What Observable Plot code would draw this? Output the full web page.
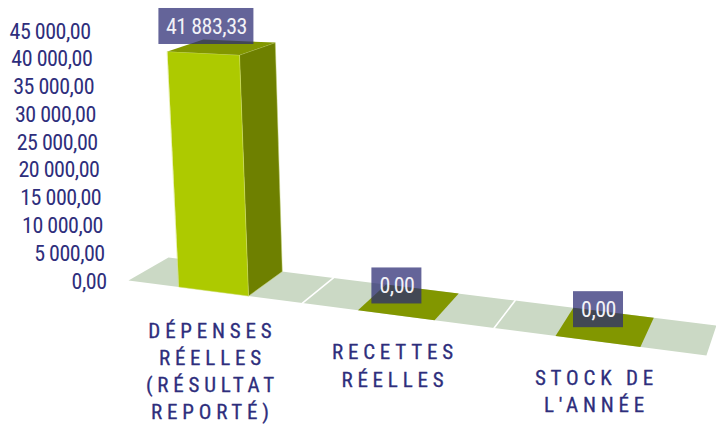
<!DOCTYPE html>
<html>
<head>
<meta charset="utf-8">
<script src="https://cdn.jsdelivr.net/npm/d3@7"></script>
<script src="https://cdn.jsdelivr.net/npm/@observablehq/plot@0.6"></script>
<style>
html,body{margin:0;padding:0;background:#fff}
svg{display:block}
</style>
</head>
<body>
<div id="chart"></div>
<script>
const categories = ["DÉPENSES\nRÉELLES\n(RÉSULTAT\nREPORTÉ)", "RECETTES\nRÉELLES", "STOCK DE\nL'ANNÉE"];
const values = [41883.33, 0, 0];
const valueLabels = ["41 883,33", "0,00", "0,00"];
const ticks = [0, 5000, 10000, 15000, 20000, 25000, 30000, 35000, 40000, 45000];
const tickLabels = ["0,00", "5 000,00", "10 000,00", "15 000,00", "20 000,00", "25 000,00", "30 000,00", "35 000,00", "40 000,00", "45 000,00"];

// Perspective camera: the floor runs along u (one unit per category) and d (0 front, 1 back)
const s = u => 0.287 * u / (1 - 0.0463 * u);
const lerp = (a, b, t) => a + (b - a) * t;
const floorX = (u, d) => lerp(lerp(128, 706, s(u)), lerp(168, 716, s(u)), d);
const floorY = (u, d) => lerp(lerp(280, 355, s(u)), lerp(257, 325, s(u)), d);
const vRef = 41883.33;
// pixel -> scale units, so every mark goes through Plot's x and y scales
const X = px => (px - 128) / 578 * 3;
const Y = py => (280 - py) * 45000 / 250;
function project(u, d, v) {
  const t = (u % 1 - 0.3) / 0.4, k = v / vRef;
  const lift = lerp(lerp(235.5, 241, t), lerp(224, 229, t), d);
  const lean = lerp(lerp(11.5, 9, t), lerp(13, 7, t), d);
  return {x: X(floorX(u, d) - lean * k), y: Y(floorY(u, d) - lift * k)};
}
const quad = (id, corners) => corners.map(([u, d, v]) => ({id, ...project(u, d, v)}));
const floorPt = (id, u, d) => ({id, x: X(floorX(u, d)), y: Y(floorY(u, d))});

const floor = categories.flatMap((c, i) => [
  floorPt(i, i, 0), floorPt(i, i + 1, 0), floorPt(i, i + 1, 1), floorPt(i, i, 1)
]);
const separators = d3.range(1, categories.length).flatMap(i => [floorPt(i, i, 0), floorPt(i, i, 1)]);
const A = 0.3, B = 0.7;
const tops = values.flatMap((v, i) => quad(i, [[i + A, 0, v], [i + B, 0, v], [i + B, 1, v], [i + A, 1, v]]));
const raised = values.map((v, i) => [v, i]).filter(([v]) => v > 0);
const fronts = raised.flatMap(([v, i]) => quad(i, [[i + A, 0, 0], [i + B, 0, 0], [i + B, 0, v], [i + A, 0, v]]));
const sides = raised.flatMap(([v, i]) => quad(i, [[i + B, 0, 0], [i + B, 1, 0], [i + B, 1, v], [i + B, 0, v]]));

const labelBoxes = values.map((v, i) => {
  const cx = floorX(i + 0.5, 0) + 1 - 8 * v / vRef;
  const cy = floorY(i + 0.5, 1) - 226 * v / vRef - 3 - 12 * v / vRef;
  const w = 9 * valueLabels[i].length + 14;
  return {label: valueLabels[i], cx: X(cx), cy: Y(cy), x1: X(cx - w / 2), x2: X(cx + w / 2), y1: Y(cy - 18), y2: Y(cy + 18)};
});
const catRows = categories.map((c, i) => ({
  c,
  x: X(floorX(i + 0.5, 0) - 1),
  y: Y(floorY(i + 0.5, 0) + [27, 25, 24][i])
}));

const spaced = px => (index, sc, val, dim, ctx, next) => {
  const g = next(index, sc, val, dim, ctx);
  d3.select(g).style("letter-spacing", px);
  return g;
};
const FONT = "'Liberation Sans Narrow','Roboto Condensed','Liberation Sans',sans-serif";
const poly = (data, fill, extra = {}) => Plot.line(data, {x: "x", y: "y", z: "id", curve: "linear-closed", fill, stroke: "none", ...extra});

const chart = Plot.plot({
  width: 716, height: 424,
  marginTop: 0, marginRight: 0, marginBottom: 0, marginLeft: 0,
  x: {domain: [0, 3], range: [128, 706], axis: null},
  y: {domain: [0, 45000], range: [280, 30], axis: null},
  marks: [
    poly(floor, "#cbd9c5"),
    Plot.line(separators, {x: "x", y: "y", z: "id", stroke: "#ffffff", strokeWidth: 1.6}),
    poly(sides, "#6e8000", {stroke: "#c5d27a", strokeWidth: 0.5}),
    poly(fronts, "#adca00", {stroke: "#d5e270", strokeWidth: 0.5}),
    poly(tops, "#829700"),
    Plot.rect(labelBoxes, {x1: "x1", x2: "x2", y1: "y1", y2: "y2", fill: "#2b2b73", fillOpacity: 0.73}),
    Plot.text(labelBoxes, {x: "cx", y: "cy", text: "label", fill: "#f2f2f7", fontSize: 22, fontFamily: FONT, textAnchor: "middle", lineAnchor: "middle", render: spaced("-0.5px")}),
    Plot.text(ticks, {
      x: v => X(106 - 16 * v / 45000), y: v => v, text: (v, i) => tickLabels[i], dy: 1,
      fill: "#2e2e7c", fontSize: 22, fontFamily: FONT, textAnchor: "end", lineAnchor: "middle", render: spaced("-0.5px")
    }),
    Plot.text(catRows, {
      x: "x", y: "y", text: "c", fill: "#2e2e7c", fontSize: 21, fontFamily: FONT,
      stroke: "#2e2e7c", strokeWidth: 0.3,
      textAnchor: "middle", lineAnchor: "top", lineHeight: 1.29, render: spaced("4.8px")
    })
  ]
});
document.getElementById("chart").append(chart);
</script>
</body>
</html>
